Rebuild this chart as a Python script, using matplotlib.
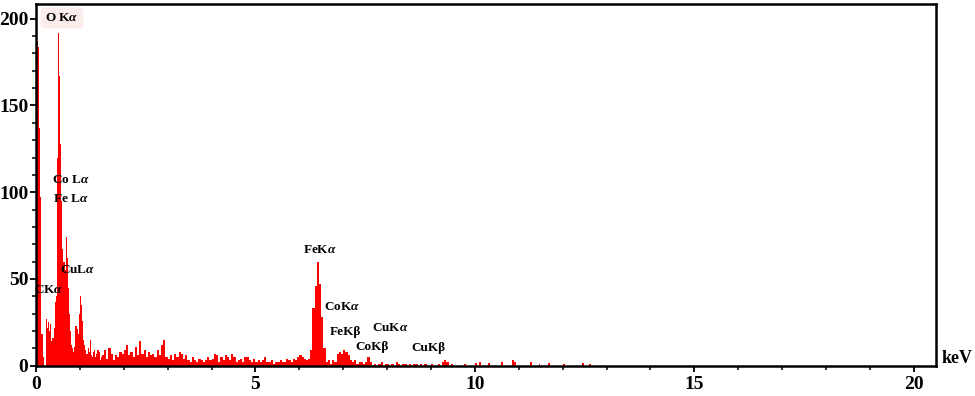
import numpy as np
import matplotlib
matplotlib.use("Agg")
import matplotlib.pyplot as plt
from matplotlib.ticker import MultipleLocator

plt.rcParams['font.family'] = ['Liberation Serif', 'DejaVu Serif']
plt.rcParams['font.weight'] = 'bold'
plt.rcParams['mathtext.fontset'] = 'custom'
plt.rcParams['mathtext.rm'] = 'Liberation Serif:bold'
plt.rcParams['mathtext.it'] = 'Liberation Serif:italic:bold'
plt.rcParams['mathtext.bf'] = 'Liberation Serif:bold'

# ---- data (counts) ----
low_start, low_step = 0.0, 0.025
low_counts = [187, 187, 184, 137, 97, 18, 5, 0, 0, 27,
              22, 25, 20, 24, 14, 16, 22, 37, 40, 120,
              192, 167, 128, 95, 67, 60, 55, 74, 62, 45,
              30, 20, 12, 10, 8, 11, 23, 21, 18, 30,
              40, 35, 26, 15, 12, 9, 7, 10, 8, 15,
              6, 5, 8, 9, 5, 7, 9, 8, 3, 5]

mid_start, mid_step = 1.5, 0.05
mid_counts = [6, 9, 4, 10, 7, 3, 6, 5, 8, 7,
              9, 12, 6, 8, 5, 11, 6, 14, 7, 9,
              5, 8, 6, 7, 5, 9, 6, 12, 15, 5,
              4, 6, 3, 7, 5, 8, 7, 4, 6, 3,
              2, 5, 3, 2, 4, 3, 2, 3, 5, 3,
              4, 7, 6, 2, 5, 3, 6, 5, 3, 7,
              5, 2, 3, 4, 2, 5, 5, 3, 2, 4,
              2, 3, 2, 3, 5, 2, 2, 3, 1, 2,
              2, 3, 2, 2, 4, 3, 2, 4, 3, 5,
              6, 5, 4, 3, 4, 9, 33, 46, 60, 47,
              28, 10, 2, 3, 1, 3, 2, 7, 8, 7,
              9, 8, 6, 3, 2, 3, 1, 2, 2, 1,
              2, 5, 2, 0, 1, 0, 1, 2, 0, 1,
              1, 0, 1, 0, 2, 1, 0, 1, 1, 0,
              1, 0, 1, 1, 0, 1, 0, 1, 0, 0,
              1, 0, 0, 1, 0, 2, 3, 2, 0, 1]

tail_energy = [9.75, 10.0, 10.1, 10.3, 10.6, 10.85, 10.9, 11.25, 11.45, 11.66, 12.0, 12.45, 12.6]
tail_counts = [1, 1.5, 2, 1.5, 2, 3.5, 2, 2, 0.8, 1.5, 0.8, 1.8, 0.8]

peak_labels = [r"O K$\alpha$", r"Co L$\alpha$", r"Fe L$\alpha$", r"CuL$\alpha$", r"CK$\alpha$",
               r"FeK$\alpha$", r"CoK$\alpha$", "FeKβ", r"CuK$\alpha$", "CoKβ", "CuKβ"]
label_e = [0.59, 0.80, 0.80, 0.96, 0.30, 6.46, 6.97, 7.04, 8.07, 7.65, 8.95]
label_c = [200.5, 107, 96, 55, 43.6, 66.7, 33.8, 19.4, 21.7, 11.0, 10.4]

x_ticks = [0, 5, 10, 15, 20]
y_ticks = [0, 50, 100, 150, 200]

# ---- figure ----
fig = plt.figure(figsize=(9.75, 3.96), dpi=100)
ax = fig.add_axes([36 / 975, 1 - 365.7 / 396, (935.7 - 36) / 975, (365.7 - 4) / 396])

red = '#ff0000'
low_e = low_start + low_step * np.arange(len(low_counts))
ax.bar(low_e, low_counts, width=low_step, align='edge', color=red, linewidth=0)
mid_e = mid_start + mid_step * np.arange(len(mid_counts))
ax.bar(mid_e, mid_counts, width=mid_step, align='edge', color=red, linewidth=0)
ax.bar(tail_energy, tail_counts, width=0.045, align='edge', color=red, linewidth=0)

ax.set_xlim(0, 20.5)
ax.set_ylim(0, 208.5)
ax.set_xticks(x_ticks)
ax.set_yticks(y_ticks)
ax.xaxis.set_minor_locator(MultipleLocator(1))
ax.yaxis.set_minor_locator(MultipleLocator(10))
ax.tick_params(which='major', direction='out', length=4.5, width=1.3, labelsize=14)
ax.tick_params(which='minor', direction='out', length=3.2, width=1.1)
ax.tick_params(axis='y', which='both', pad=1)
ax.tick_params(axis='x', which='major', pad=3)
for lab in ax.get_xticklabels() + ax.get_yticklabels():
    lab.set_fontweight('bold')
for s in ax.spines.values():
    s.set_linewidth(1.8)

for i, (t, e, c) in enumerate(zip(peak_labels, label_e, label_c)):
    kw = {}
    if i == 0:
        kw['bbox'] = dict(boxstyle='round,pad=0.35', fc='#fcecec', ec='none')
    ax.text(e, c, t, ha='center', va='center', fontsize=9.5, fontweight='bold', **kw)

ax.text(1.0237, 0.02, 'keV', transform=ax.transAxes, ha='center', va='center',
        fontsize=13, fontweight='bold')

fig.savefig('out.png', dpi=100)
